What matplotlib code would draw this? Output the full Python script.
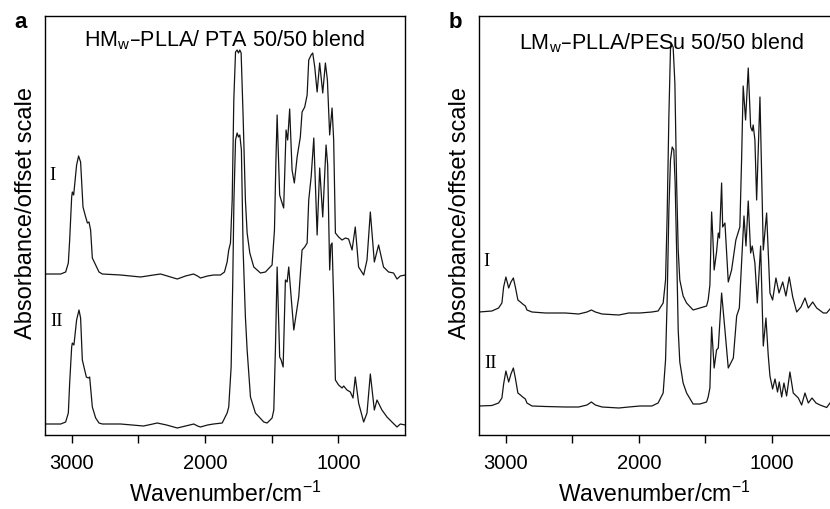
import matplotlib
matplotlib.use('Agg')
import matplotlib.pyplot as plt

plt.rcParams['font.family'] = ['Liberation Sans', 'DejaVu Sans']
plt.rcParams['mathtext.default'] = 'regular'

# panel a: HMw-PLLA / PTA, wavenumber (cm-1) and absorbance (offset, arbitrary units)
wn_a1 = [3200, 3082, 3045, 3025, 3015, 3000, 2995, 2985, 2963, 2948, 2933, 2915, 2895, 2882, 2870,
         2858, 2845, 2820, 2795, 2770, 2633, 2483, 2386, 2333, 2208, 2146, 2086, 2056, 2034, 1981,
         1936, 1884, 1854, 1834, 1822, 1809, 1796, 1784, 1771, 1759, 1749, 1739, 1729, 1714, 1697,
         1684, 1664, 1634, 1584, 1547, 1497, 1479, 1468, 1459, 1440, 1429, 1410, 1392, 1380, 1365,
         1347, 1330, 1309, 1285, 1272, 1252, 1234, 1222, 1204, 1192, 1177, 1159, 1140, 1117, 1097,
         1082, 1065, 1047, 1035, 1022, 998, 972, 947, 923, 897, 873, 848, 810, 785, 760,
         730, 698, 661, 623, 586, 560, 535, 498]
ab_a1 = [161, 161, 163, 172, 195, 238, 243, 240, 270, 279, 273, 228, 218, 212, 213,
         205, 177, 170, 163, 161, 160, 158, 160, 161, 156, 159, 161, 159, 157, 159,
         160, 160, 163, 173, 185, 192, 235, 335, 383, 385, 382, 385, 382, 318, 235,
         202, 182, 168, 162, 163, 170, 205, 275, 320, 240, 235, 227, 305, 295, 326,
         265, 252, 278, 298, 323, 328, 340, 375, 380, 382, 368, 343, 372, 342, 372,
         355, 300, 327, 295, 202, 198, 195, 197, 196, 185, 208, 168, 160, 175, 223,
         173, 190, 168, 163, 162, 156, 159, 160]

wn_a2 = [3200, 3082, 3045, 3025, 3015, 3000, 2995, 2983, 2963, 2945, 2933, 2920, 2890, 2875, 2865,
         2845, 2820, 2795, 2770, 2633, 2461, 2408, 2358, 2288, 2208, 2146, 2084, 2056, 2034, 1981,
         1936, 1871, 1834, 1822, 1804, 1792, 1783, 1771, 1759, 1749, 1739, 1727, 1714, 1697, 1684,
         1659, 1622, 1559, 1534, 1497, 1484, 1472, 1459, 1440, 1429, 1414, 1397, 1384, 1372, 1334,
         1297, 1272, 1252, 1234, 1222, 1204, 1184, 1159, 1140, 1117, 1092, 1080, 1065, 1056, 1047,
         1035, 1022, 998, 972, 960, 935, 910, 890, 873, 848, 810, 785, 760, 730, 710,
         673, 635, 598, 560, 535, 498]
ab_a2 = [11, 11, 13, 22, 52, 88, 92, 90, 115, 125, 117, 75, 58, 57, 58,
         28, 17, 12, 11, 11, 9, 10.5, 12, 10, 7, 9, 11, 9, 8, 10,
         11, 12, 22, 28, 68, 152, 235, 295, 302, 298, 300, 285, 185, 118, 85,
         38, 22, 13, 12, 17, 25, 85, 168, 78, 75, 68, 155, 153, 168, 105,
         138, 185, 188, 192, 235, 258, 297, 200, 267, 218, 290, 270, 165, 190, 192,
         135, 55, 50, 47, 49, 45, 43, 37, 58, 32, 13, 22, 61, 25, 35,
         25, 18, 13, 8, 11, 10]

# panel b: LMw-PLLA / PESu
wn_b1 = [3200, 3103, 3053, 3028, 3015, 2998, 2977, 2960, 2942, 2927, 2908, 2889, 2872, 2852, 2840,
         2802, 2701, 2551, 2451, 2389, 2356, 2326, 2276, 2150, 2075, 1992, 1902, 1855, 1817, 1799,
         1787, 1774, 1762, 1754, 1742, 1729, 1716, 1704, 1692, 1667, 1641, 1592, 1541, 1491, 1479,
         1466, 1453, 1443, 1434, 1416, 1403, 1394, 1378, 1370, 1353, 1328, 1303, 1271, 1241, 1228,
         1216, 1198, 1178, 1160, 1148, 1141, 1128, 1115, 1090, 1065, 1040, 1015, 995, 970, 947,
         919, 895, 870, 844, 814, 782, 752, 727, 694, 664, 614, 589, 564]
ab_b1 = [123, 124, 127, 132, 148, 158, 147, 153, 157, 148, 135, 133, 131, 129, 125,
         123, 122, 122, 121, 123, 125, 123, 121, 120, 122, 122, 123, 124, 132, 155,
         219, 319, 386, 391, 388, 352, 252, 185, 155, 139, 132, 125, 127, 129, 135,
         150, 223, 195, 165, 183, 202, 197, 252, 208, 212, 153, 165, 195, 208, 275,
         349, 315, 367, 308, 304, 310, 295, 235, 338, 185, 222, 142, 135, 157, 142,
         153, 139, 158, 138, 123, 128, 137, 127, 133, 127, 122, 122, 126]

wn_b2 = [3200, 3103, 3053, 3028, 3015, 2998, 2977, 2960, 2942, 2927, 2908, 2889, 2872, 2852, 2840,
         2802, 2701, 2551, 2451, 2389, 2356, 2326, 2276, 2150, 2075, 1992, 1902, 1855, 1817, 1799,
         1787, 1774, 1762, 1749, 1737, 1727, 1716, 1704, 1692, 1667, 1641, 1592, 1541, 1491, 1479,
         1466, 1453, 1434, 1416, 1403, 1378, 1353, 1328, 1290, 1265, 1245, 1227, 1210, 1195, 1178,
         1160, 1148, 1128, 1110, 1085, 1065, 1045, 1028, 1015, 995, 977, 958, 945, 927, 910,
         890, 865, 840, 802, 777, 752, 727, 699, 669, 639, 589, 564]
ab_b2 = [29, 29.5, 32, 37, 51, 64, 53, 61, 67, 57, 42, 40, 38, 36, 32,
         29, 28.5, 28, 28, 30, 33, 30, 28, 27, 28, 29, 29, 32, 42, 75,
         135, 225, 275, 288, 285, 252, 185, 105, 73, 52, 42, 31, 31, 33, 38,
         47, 108, 67, 85, 87, 142, 105, 67, 77, 119, 127, 175, 219, 189, 234,
         182, 189, 172, 132, 189, 89, 117, 80, 59, 46, 56, 43, 53, 38, 52,
         39, 63, 42, 37, 30, 42, 32, 37, 32, 30, 27.5, 32]

fig = plt.figure(figsize=(8.3, 5.09), dpi=100)
ax_a = fig.add_axes([45 / 830, 74 / 509, 360 / 830, 419 / 509])
ax_b = fig.add_axes([479 / 830, 74 / 509, 351 / 830, 419 / 509])

line_kw = dict(color='#151515', lw=0.9)
ax_a.plot(wn_a1, ab_a1, **line_kw)
ax_a.plot(wn_a2, ab_a2, **line_kw)
ax_b.plot(wn_b1, ab_b1, **line_kw)
ax_b.plot(wn_b2, ab_b2, **line_kw)

ax_a.set_xlim(3200, 500)
ax_b.set_xlim(3200, 564)
ax_b.spines['right'].set_visible(False)

for ax in (ax_a, ax_b):
    ax.set_ylim(0, 419)
    ax.set_yticks([])
    ax.set_xticks([3000, 2500, 2000, 1500, 1000])
    ax.set_xticklabels(['3000', '', '2000', '', '1000'])
    ax.tick_params(axis='x', direction='out', length=6, width=1, labelsize=14.5, pad=8)
    for sp in ax.spines.values():
        sp.set_linewidth(1)
    ax.set_xlabel('Wavenumber/cm$^{-1}$', fontsize=16.5, labelpad=6)
    ax.set_ylabel('Absorbance/offset scale', fontsize=17, labelpad=6, y=0.53)

ax_a.text(0.5, 0.943, 'HM$_w$\u2013PLLA/ PTA 50/50 blend', transform=ax_a.transAxes,
          ha='center', va='center', fontsize=15.5)
ax_b.text(0.521, 0.936, 'LM$_w$\u2013PLLA/PESu 50/50 blend', transform=ax_b.transAxes,
          ha='center', va='center', fontsize=15.5)

serif = dict(family=['Liberation Serif', 'DejaVu Serif'], fontsize=13.5, ha='center', va='center')
ax_a.text(0.022, 0.62, 'I', transform=ax_a.transAxes, **serif)
ax_a.text(0.033, 0.27, 'II', transform=ax_a.transAxes, **serif)
ax_b.text(0.021, 0.414, 'I', transform=ax_b.transAxes, **serif)
ax_b.text(0.033, 0.171, 'II', transform=ax_b.transAxes, **serif)

fig.text(21 / 830, 1 - 23 / 509, 'a', fontsize=16, fontweight='bold', ha='center', va='center')
fig.text(455 / 830, 1 - 22 / 509, 'b', fontsize=16, fontweight='bold', ha='center', va='center')

fig.savefig('out.png', dpi=100)
